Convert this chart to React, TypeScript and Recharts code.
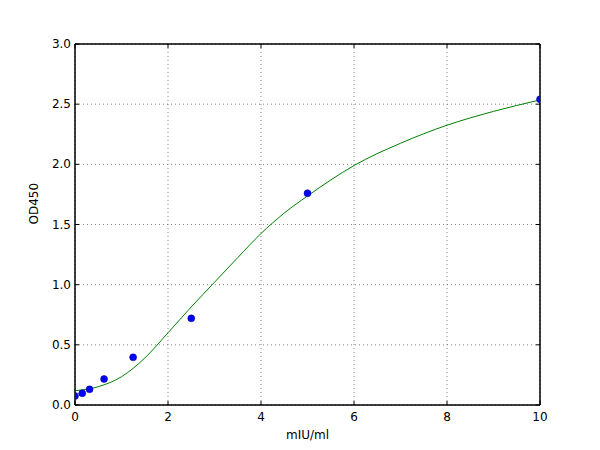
import React from "react";
import { CartesianGrid, ComposedChart, Line, ReferenceArea, Scatter, XAxis, YAxis } from "recharts";

// standards (mIU/ml) and measured OD450
const stdConc = [0, 0.156, 0.3125, 0.625, 1.25, 2.5, 5, 10];
const stdOd = [0.075, 0.097, 0.13, 0.216, 0.396, 0.72, 1.76, 2.54];

// fitted curve
const fitConc = [0, 0.5, 1, 1.5, 2, 2.5, 3, 3.5, 4, 4.5, 5, 5.5, 6, 7, 8, 9, 10];
const fitOd = [0.119, 0.152, 0.235, 0.39, 0.6, 0.815, 1.02, 1.225, 1.425, 1.595, 1.737, 1.87, 1.99, 2.175, 2.325, 2.44, 2.535];

const xTicks = [0, 2, 4, 6, 8, 10];
const yTicks = [0, 0.5, 1, 1.5, 2, 2.5, 3];

const points = stdConc.map((x, i) => ({ x, y: stdOd[i] }));
const curve = fitConc.map((x, i) => ({ x, y: fitOd[i] }));

const FONT = "'DejaVu Sans', sans-serif";

const BottomTick = ({ x, y, payload }: any) => (
  <g>
    <line x1={x} y1={y} x2={x} y2={y - 4} stroke="#000" />
    <text x={x} y={y + 16} textAnchor="middle" fontSize={12} fontFamily={FONT} fill="#000">
      {payload.value}
    </text>
  </g>
);

const LeftTick = ({ x, y, payload }: any) => (
  <g>
    <line x1={x} y1={y} x2={x + 4} y2={y} stroke="#000" />
    <text x={x - 4} y={y + 4} textAnchor="end" fontSize={12} fontFamily={FONT} fill="#000">
      {payload.value.toFixed(1)}
    </text>
  </g>
);

const TopTick = ({ x, y }: any) => <line x1={x} y1={y} x2={x} y2={y + 4} stroke="#000" />;
const RightTick = ({ x, y }: any) => <line x1={x} y1={y} x2={x - 4} y2={y} stroke="#000" />;

const Dot = ({ cx, cy }: any) => <circle cx={cx} cy={cy} r={3.5} fill="#0000ff" stroke="#000080" strokeWidth={0.5} />;

export default function App() {
  return (
    <div style={{ position: "absolute", left: 0, top: 0, background: "#fff" }}>
      <ComposedChart width={600} height={450} margin={{ top: 43, right: 59, left: 0, bottom: 0 }}>
        <CartesianGrid stroke="#666" strokeDasharray="1 3" strokeWidth={0.8} horizontalValues={yTicks} verticalValues={xTicks} />
        <XAxis
          type="number"
          dataKey="x"
          domain={[0, 10]}
          ticks={xTicks}
          allowDataOverflow
          height={45}
          tickSize={0}
          tickMargin={0}
          tick={<BottomTick />}
          axisLine={{ stroke: "#000" }}
          label={{ value: "mIU/ml", position: "insideBottom", offset: 11, fontSize: 12, fontFamily: FONT, fill: "#000" }}
        />
        <XAxis
          xAxisId="top"
          orientation="top"
          type="number"
          dataKey="x"
          domain={[0, 10]}
          ticks={xTicks}
          allowDataOverflow
          height={1}
          tickSize={0}
          tickMargin={0}
          tick={<TopTick />}
          axisLine={{ stroke: "#000" }}
        />
        <YAxis
          type="number"
          domain={[0, 3]}
          ticks={yTicks}
          allowDataOverflow
          width={75}
          tickSize={0}
          tickMargin={0}
          tick={<LeftTick />}
          axisLine={{ stroke: "#000" }}
          label={{ value: "OD450", angle: -90, position: "insideLeft", offset: 34, fontSize: 12, fontFamily: FONT, fill: "#000" }}
        />
        <YAxis
          yAxisId="right"
          orientation="right"
          type="number"
          domain={[0, 3]}
          ticks={yTicks}
          allowDataOverflow
          width={1}
          tickSize={0}
          tickMargin={0}
          tick={<RightTick />}
          axisLine={{ stroke: "#000" }}
        />
        {/* invisible series so the top/right frame axes get drawn */}
        <Line
          xAxisId="top"
          yAxisId="right"
          data={curve}
          dataKey="y"
          stroke="none"
          dot={false}
          activeDot={false}
          legendType="none"
          isAnimationActive={false}
        />
        <ReferenceArea x1={0} x2={10} y1={0} y2={3} fill="none" stroke="#000" strokeWidth={1} ifOverflow="visible" />
        <Line
          data={curve}
          dataKey="y"
          type="monotone"
          stroke="#008000"
          strokeWidth={1}
          dot={false}
          activeDot={false}
          isAnimationActive={false}
        />
        <Scatter data={points} dataKey="y" shape={<Dot />} isAnimationActive={false} />
      </ComposedChart>
    </div>
  );
}
